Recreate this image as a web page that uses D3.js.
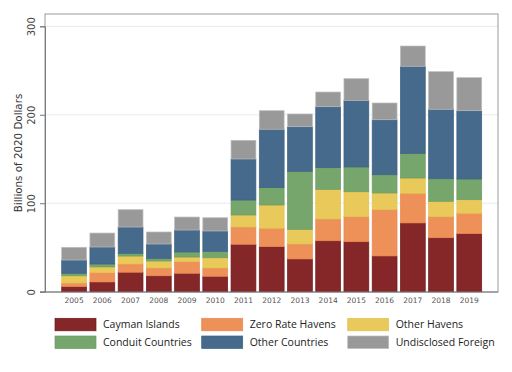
<!DOCTYPE html>
<html><head><meta charset="utf-8">
<script src="https://cdn.jsdelivr.net/npm/d3@7"></script>
<style>body{margin:0;background:#fff}svg{display:block}</style>
</head><body>
<svg id="c" width="512" height="372"></svg>
<script>
const years = ["2005","2006","2007","2008","2009","2010","2011","2012","2013","2014","2015","2016","2017","2018","2019"];
const seriesNames = ["Cayman Islands","Zero Rate Havens","Other Havens","Conduit Countries","Other Countries","Undisclosed Foreign"];
const cayman     = [5.7, 11.0, 22.0, 18.0, 20.8, 17.4, 53.6, 50.9, 37.0, 57.6, 56.5, 40.4, 77.7, 61.0, 65.6];
const zeroRate   = [4.1, 10.5,  9.3,  8.8, 13.1,  9.4, 19.5, 20.8, 16.9, 24.6, 28.3, 52.3, 33.5, 23.8, 23.0];
const otherHav   = [8.2,  6.5,  9.0,  7.9,  5.3, 11.6, 13.6, 26.3, 16.6, 33.5, 28.2, 18.9, 17.3, 17.4, 15.4];
const conduit    = [2.8,  3.3,  3.1,  3.0,  5.7,  7.3, 16.9, 19.6, 65.6, 24.5, 28.0, 20.6, 27.9, 25.5, 23.4];
const otherCtry  = [15.0, 19.2, 29.7, 16.2, 24.8, 22.9, 46.4, 66.0, 50.4, 68.9, 75.3, 62.2, 98.4, 78.5, 77.2];
const undisclosed= [14.4, 15.8, 19.6, 13.6, 14.7, 15.0, 21.1, 21.0, 14.4, 16.6, 24.5, 18.9, 22.9, 42.5, 37.3];
const yTicks = [0, 100, 200, 300];
const colors = ["#852628","#ee9159","#e8c95a","#76a66b","#456a8c","#999999"];
const strokes = ["#6e1a1c","#e8874f","#e2c24f","#6c9c61","#3d6283","#bdbdbd"];

const allSeries = [cayman, zeroRate, otherHav, conduit, otherCtry, undisclosed];
const rows = years.map((y,i) => {
  const r = {year: y};
  seriesNames.forEach((s,k) => r[s] = allSeries[k][i]);
  return r;
});
const stack = d3.stack().keys(seriesNames)(rows);

const svg = d3.select("#c");
const frame = {l:45, r:498, t:14, b:292};
const x = d3.scaleBand().domain(years).range([61.7, 481.7]).paddingInner(0.12).paddingOuter(0);
const y = d3.scaleLinear().domain([0, 300]).range([291.7, 26.3]);

// gridlines
svg.append("g").selectAll("line").data(yTicks.filter(d=>d>0)).join("line")
  .attr("x1", frame.l).attr("x2", frame.r)
  .attr("y1", d=>y(d)).attr("y2", d=>y(d))
  .attr("stroke", "#e6eef0").attr("stroke-width", 1);

// frame
svg.append("rect").attr("x", frame.l).attr("y", frame.t)
  .attr("width", frame.r-frame.l).attr("height", frame.b-frame.t)
  .attr("fill","none").attr("stroke","#9a9a9a").attr("stroke-width",1);

// bars
svg.append("g").selectAll("g").data(stack).join("g")
  .attr("fill", (d,i)=>colors[i]).attr("stroke",(d,i)=>strokes[i]).attr("stroke-width",0.7)
  .selectAll("rect").data(d=>d).join("rect")
  .attr("x", d=>x(d.data.year))
  .attr("width", x.bandwidth())
  .attr("y", d=>y(d[1]))
  .attr("height", d=>y(d[0])-y(d[1]));

// y axis
const yAxis = d3.axisLeft(y).tickValues(yTicks).tickSize(5).tickFormat("");
const gy = svg.append("g").attr("transform",`translate(${frame.l},0)`).call(yAxis);
gy.select(".domain").attr("stroke","#7a7a7a");
gy.selectAll(".tick line").attr("stroke","#7a7a7a");
gy.selectAll(".tick").append("text")
  .attr("transform","translate(-10,0) rotate(-90)")
  .attr("text-anchor","middle")
  .attr("font-family","DejaVu Sans").attr("font-size",10).attr("fill","#444")
  .text(d=>d);

// bottom axis
const xAxis = d3.axisBottom(x).tickSize(0).tickPadding(6);
const gx = svg.append("g").attr("transform",`translate(0,${frame.b})`).call(xAxis);
gx.select(".domain").remove();
gx.append("line").attr("x1",frame.l-5).attr("x2",frame.r).attr("y1",0).attr("y2",0).attr("stroke","#7a7a7a");
gx.selectAll(".tick text").attr("font-family","DejaVu Sans").attr("font-size",7.5).attr("fill","#555");

// y title
svg.append("text").attr("transform",`translate(22,153) rotate(-90)`)
  .attr("text-anchor","middle").attr("font-family","DejaVu Sans").attr("font-size",10.3).attr("fill","#333")
  .text("Billions of 2020 Dollars");

// legend
const colX = [55, 201.7, 347.7];
const rowY = [318.3, 336];
const lg = svg.append("g");
seriesNames.forEach((s,i)=>{
  const cx = colX[i%3], ry = rowY[Math.floor(i/3)];
  lg.append("rect").attr("x",cx).attr("y",ry).attr("width",41).attr("height",12.5)
    .attr("fill",colors[i]).attr("stroke",strokes[i]).attr("stroke-width",0.7);
  lg.append("text").attr("x",cx+48).attr("y",ry+10).attr("font-family","Open Sans").attr("font-size",10.5)
    .attr("fill","#222").text(s);
});
</script>
</body></html>
